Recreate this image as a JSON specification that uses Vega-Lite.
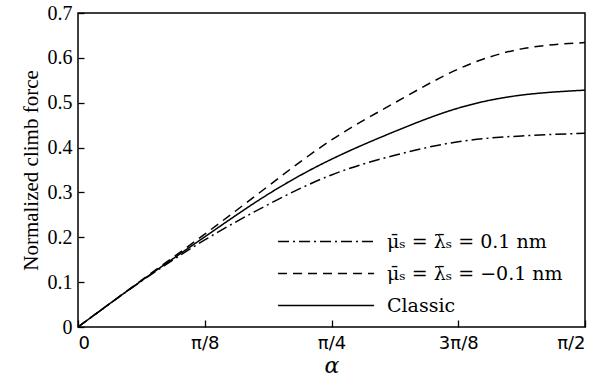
{
  "$schema": "https://vega.github.io/schema/vega-lite/v6.json",
  "width": 507,
  "height": 314,
  "autosize": "none",
  "padding": {"left": 78, "top": 13, "right": 14, "bottom": 60},
  "background": "white",
  "config": {
    "view": {"stroke": "black", "strokeWidth": 1.5},
    "font": "Liberation Serif",
    "axis": {"grid": false, "domain": false, "tickColor": "black", "tickWidth": 1.3, "labelColor": "black", "titleColor": "black", "titleFontWeight": "normal"}
  },
  "data": {
    "values": [
      {"alpha": 0, "force": 0, "series": "a"},
      {"alpha": 0.19635, "force": 0.102, "series": "a"},
      {"alpha": 0.3927, "force": 0.194, "series": "a"},
      {"alpha": 0.58905, "force": 0.273, "series": "a"},
      {"alpha": 0.7854, "force": 0.339, "series": "a"},
      {"alpha": 0.98175, "force": 0.383, "series": "a"},
      {"alpha": 1.1781, "force": 0.413, "series": "a"},
      {"alpha": 1.37445, "force": 0.426, "series": "a"},
      {"alpha": 1.5708, "force": 0.432, "series": "a"},
      {"alpha": 0, "force": 0, "series": "b"},
      {"alpha": 0.19635, "force": 0.104, "series": "b"},
      {"alpha": 0.3927, "force": 0.207, "series": "b"},
      {"alpha": 0.58905, "force": 0.314, "series": "b"},
      {"alpha": 0.7854, "force": 0.417, "series": "b"},
      {"alpha": 0.98175, "force": 0.500, "series": "b"},
      {"alpha": 1.1781, "force": 0.575, "series": "b"},
      {"alpha": 1.37445, "force": 0.620, "series": "b"},
      {"alpha": 1.5708, "force": 0.634, "series": "b"},
      {"alpha": 0, "force": 0, "series": "Classic"},
      {"alpha": 0.19635, "force": 0.103, "series": "Classic"},
      {"alpha": 0.3927, "force": 0.201, "series": "Classic"},
      {"alpha": 0.58905, "force": 0.296, "series": "Classic"},
      {"alpha": 0.7854, "force": 0.374, "series": "Classic"},
      {"alpha": 0.98175, "force": 0.436, "series": "Classic"},
      {"alpha": 1.1781, "force": 0.488, "series": "Classic"},
      {"alpha": 1.37445, "force": 0.517, "series": "Classic"},
      {"alpha": 1.5708, "force": 0.528, "series": "Classic"}
    ]
  },
  "mark": {"type": "line", "color": "black", "strokeWidth": 1.5, "interpolate": "natural"},
  "encoding": {
    "x": {
      "field": "alpha", "type": "quantitative",
      "scale": {"domain": [0, 1.5708], "nice": false, "zero": false},
      "axis": {
        "values": [0, 0.3927, 0.7854, 1.1781, 1.5708],
        "labelExpr": "['0','π/8','π/4','3π/8','π/2'][round(datum.value/0.3927)]",
        "tickSize": -7, "labelPadding": 14, "labelFont": "DejaVu Sans", "labelFontSize": 18,
        "title": "α", "titleFont": "DejaVu Serif", "titleFontSize": 22, "titleFontStyle": "italic", "titlePadding": 3
      }
    },
    "y": {
      "field": "force", "type": "quantitative",
      "scale": {"domain": [0, 0.7], "nice": false},
      "axis": {
        "values": [0, 0.1, 0.2, 0.3, 0.4, 0.5, 0.6, 0.7],
        "labelExpr": "datum.value == 0 ? '0' : format(datum.value, '.1f')",
        "labelFont": "Liberation Serif", "labelFontSize": 20,
        "tickSize": -6, "labelPadding": 12,
        "title": "Normalized climb force", "titleFont": "Liberation Serif", "titleFontSize": 21, "titlePadding": 6
      }
    },
    "strokeDash": {
      "field": "series", "type": "nominal",
      "scale": {"domain": ["a", "b", "Classic"], "range": [[11, 4, 2, 4], [9, 6], [1, 0]]},
      "legend": {
        "title": null, "orient": "none", "legendX": 199, "legendY": 214,
        "padding": 0, "symbolType": "stroke", "symbolSize": 9216, "symbolStrokeColor": "black",
        "symbolStrokeWidth": 1.5, "clipHeight": 29, "rowPadding": 3, "labelOffset": 12,
        "labelFontSize": 19, "labelFont": "DejaVu Serif", "labelColor": "black", "labelLimit": 400,
        "labelExpr": "datum.value == 'a' ? 'μ̄ₛ = λ̄ₛ = 0.1 nm' : datum.value == 'b' ? 'μ̄ₛ = λ̄ₛ = −0.1 nm' : 'Classic'"
      }
    }
  }
}
